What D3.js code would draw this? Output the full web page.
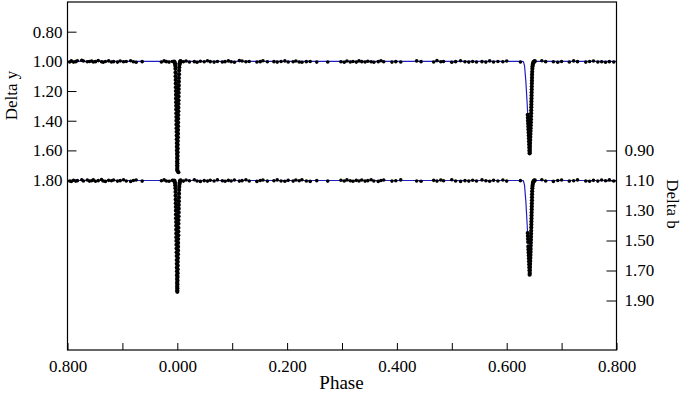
<!DOCTYPE html>
<meta charset="utf-8">
<style>
body { margin: 0; background: #fff; }
text { font-family: "Liberation Serif", "Times New Roman", serif; fill: #000; }
</style>
<svg id="mainsvg" width="683" height="394"></svg>
<script src="https://cdn.jsdelivr.net/npm/d3@7"></script>
<script>

// phase runs -0.2 .. 0.8, labels are shown wrapped into 0..1
const phaseTicks = [-0.2, -0.1, 0, 0.1, 0.2, 0.3, 0.4, 0.5, 0.6, 0.7, 0.8]
const phaseLabels = ["0.800", "", "0.000", "", "0.200", "", "0.400", "", "0.600", "", "0.800"]
const yTicks = [0.80, 1.00, 1.20, 1.40, 1.60, 1.80]
const bTicks = [0.90, 1.10, 1.30, 1.50, 1.70, 1.90]

// out-of-eclipse observations: [phase, delta y, delta b]
const baseObs = [
  [-0.196,1.004,1.103],[-0.193,0.997,1.106],[-0.189,1.005,1.098],[-0.185,1.002,1.104],[-0.182,0.996,1.101],
  [-0.174,0.993,1.095],[-0.171,0.998,1.103],[-0.164,1.003,1.097],[-0.160,1.001,1.104],[-0.156,0.998,1.102],
  [-0.153,1.004,1.096],[-0.149,1.002,1.105],[-0.144,0.995,1.101],[-0.138,1.003,1.094],[-0.135,1.006,1.103],
  [-0.131,1.001,1.106],[-0.125,0.997,1.099],[-0.120,1.004,1.102],[-0.116,1.002,1.097],[-0.109,1.005,1.104],
  [-0.104,0.998,1.101],[-0.098,1.003,1.095],[-0.093,1.001,1.103],[-0.085,0.996,1.106],[-0.080,1.003,1.100],
  [-0.075,1.006,1.097],[-0.064,1.002,1.104],[-0.029,1.004,1.102],[-0.024,0.997,1.096],[-0.020,1.002,1.103],
  [-0.015,1.005,1.105],[-0.009,1.001,1.099],[0.011,1.003,1.104],[0.016,0.998,1.097],[0.022,1.004,1.102],
  [0.031,1.002,1.095],[0.036,1.006,1.103],[0.042,0.999,1.106],
  [0.049,1.003,1.101],[0.055,0.996,1.104],[0.060,1.002,1.098],[0.067,1.005,1.103],[0.073,1.001,1.096],
  [0.082,1.004,1.102],[0.087,1.002,1.105],[0.093,0.997,1.099],[0.098,1.003,1.103],[0.104,1.006,1.097],
  [0.113,0.995,1.104],[0.118,0.998,1.101],[0.125,1.003,1.095],[0.131,1.001,1.103],[0.145,1.004,1.106],
  [0.151,1.002,1.100],[0.156,0.996,1.097],[0.164,1.003,1.104],[0.176,1.002,1.102],[0.182,1.005,1.096],
  [0.189,1.001,1.103],[0.196,0.997,1.105],[0.202,1.004,1.099],[0.211,1.003,1.104],[0.216,0.998,1.097],
  [0.222,1.004,1.102],[0.227,1.006,1.095],[0.235,1.002,1.103],[0.242,1.001,1.106],[0.254,1.005,1.101],
  [0.274,1.004,1.104],
  [0.298,1.003,1.098],[0.304,1.006,1.103],[0.309,0.998,1.096],[0.315,1.004,1.102],[0.320,1.001,1.105],
  [0.326,1.005,1.099],[0.331,0.997,1.103],[0.336,1.002,1.097],[0.342,1.004,1.104],[0.347,0.999,1.101],
  [0.353,1.003,1.095],[0.358,1.006,1.103],[0.366,1.002,1.106],[0.371,0.996,1.100],[0.376,1.003,1.097],
  [0.391,1.005,1.104],[0.398,1.002,1.102],[0.407,1.004,1.096],[0.436,0.997,1.103],[0.444,1.002,1.105],
  [0.467,1.004,1.099],[0.473,0.995,1.104],[0.480,1.003,1.097],[0.485,1.001,1.102],[0.500,1.006,1.095],
  [0.507,1.002,1.103],[0.516,0.996,1.106],[0.524,1.003,1.101],[0.531,1.005,1.104],[0.538,1.001,1.098],
  [0.545,1.004,1.103],
  [0.555,1.002,1.096],[0.562,1.005,1.102],[0.569,0.997,1.105],[0.576,1.004,1.099],[0.584,1.001,1.103],
  [0.593,1.003,1.097],[0.600,0.998,1.104],[0.625,1.004,1.101],[0.664,0.996,1.095],[0.671,1.002,1.103],
  [0.685,1.003,1.106],[0.693,1.006,1.100],[0.700,1.001,1.097],[0.714,1.004,1.104],[0.722,0.997,1.102],
  [0.729,1.002,1.096],[0.744,1.005,1.103],[0.751,1.001,1.105],[0.758,0.998,1.099],[0.766,1.004,1.104],
  [0.773,1.003,1.097],[0.780,1.006,1.102],[0.787,1.002,1.095],[0.795,1.004,1.103]
]

// primary eclipse observations: [phase, delta y, delta b]
const primObs = [
  [-0.0058,1.001,1.101],[-0.0050,1.005,1.104],[-0.0042,1.015,1.116],[-0.0037,1.030,1.132],[-0.0034,1.050,1.151],
  [-0.0032,1.075,1.176],
  [-0.0031,1.100,1.201],[-0.0029,1.125,1.226],[-0.0028,1.150,1.251],[-0.0026,1.175,1.276],[-0.0025,1.200,1.301],
  [-0.0024,1.225,1.327],[-0.0023,1.250,1.352],[-0.0021,1.275,1.377],[-0.0020,1.300,1.402],[-0.0019,1.325,1.428],
  [-0.0018,1.350,1.453],[-0.0017,1.375,1.478],[-0.0016,1.400,1.503],[-0.0015,1.425,1.529],[-0.0013,1.450,1.554],
  [-0.0012,1.475,1.579],[-0.0011,1.500,1.604],[-0.0010,1.525,1.630],[-0.0009,1.550,1.655],[-0.0008,1.575,1.680],
  [-0.0006,1.600,1.705],[-0.0005,1.625,1.731],[-0.0004,1.650,1.756],[-0.0003,1.675,1.781],[-0.0002,1.700,1.806],
  [-0.0001,1.725,1.832],
  [0.0000,1.735,1.842],[0.0001,1.712,1.818],[0.0002,1.687,1.793],[0.0004,1.662,1.768],[0.0005,1.637,1.743],
  [0.0006,1.612,1.718],[0.0007,1.587,1.692],[0.0008,1.562,1.667],[0.0009,1.537,1.642],[0.0011,1.512,1.617],
  [0.0012,1.487,1.591],[0.0013,1.462,1.566],[0.0014,1.437,1.541],[0.0015,1.412,1.516],[0.0016,1.387,1.490],
  [0.0018,1.362,1.465],[0.0019,1.337,1.440],[0.0020,1.312,1.415],[0.0021,1.287,1.389],[0.0022,1.262,1.364],
  [0.0023,1.237,1.339],[0.0025,1.212,1.313],[0.0026,1.187,1.288],[0.0027,1.162,1.263],[0.0028,1.137,1.238],
  [0.0030,1.112,1.213],[0.0031,1.087,1.188],[0.0033,1.062,1.163],[0.0036,1.040,1.141],[0.0040,1.022,1.123],
  [0.0044,1.012,1.113],[0.0052,1.002,1.102],[0.0060,0.999,1.099]
]
// one high b point just after primary minimum
const primOutliersB = [[0.0020,1.045]]

// secondary eclipse observations: [phase, delta y, delta b]
const secObs = [
  [0.6383,1.36,1.45],[0.6386,1.38,1.47],[0.6388,1.40,1.49],[0.6391,1.42,1.51],[0.6394,1.44,1.54],
  [0.6396,1.46,1.56],[0.6399,1.48,1.58],[0.6402,1.50,1.60],[0.6404,1.52,1.62],[0.6407,1.54,1.64],
  [0.6410,1.56,1.66],[0.6412,1.58,1.68],[0.6415,1.60,1.70],[0.6418,1.62,1.728],
  [0.6420,1.61,1.716],[0.6422,1.59,1.696],[0.6424,1.57,1.676],[0.6426,1.55,1.656],[0.6429,1.53,1.636],
  [0.6431,1.51,1.616],[0.6433,1.49,1.596],[0.6435,1.47,1.576],[0.6436,1.45,1.556],[0.6438,1.43,1.535],
  [0.6440,1.41,1.515],[0.6442,1.39,1.495],[0.6443,1.37,1.475],[0.6445,1.35,1.455],[0.6446,1.33,1.435],
  [0.6448,1.31,1.414],[0.6449,1.29,1.394],[0.6450,1.27,1.374],[0.6452,1.25,1.354],[0.6453,1.23,1.334],
  [0.6454,1.21,1.313],[0.6456,1.19,1.293],[0.6457,1.17,1.273],[0.6458,1.15,1.253],[0.6460,1.13,1.232],
  [0.6461,1.11,1.212],[0.6462,1.09,1.192],[0.6464,1.07,1.172],[0.6467,1.05,1.152],[0.6470,1.035,1.136],
  [0.6475,1.022,1.123],[0.6481,1.012,1.113],[0.6490,1.005,1.105],[0.6500,1.001,1.101],[0.6512,0.999,1.099]
]

// model light curves: [phase, delta y, delta b]
const modelCurve = [
  [-0.2,1.000,1.100],
  [-0.0060,1.000,1.100],[-0.0045,1.006,1.106],[-0.0035,1.035,1.136],[-0.0025,1.200,1.301],[-0.0010,1.490,1.595],
  [0,1.738,1.845],
  [0.0010,1.500,1.605],[0.0025,1.200,1.301],[0.0035,1.035,1.136],[0.0045,1.006,1.106],[0.0060,1.000,1.100],
  [0.6280,1.000,1.100],[0.6305,1.002,1.102],[0.6325,1.030,1.133],[0.6350,1.140,1.245],[0.6375,1.300,1.410],
  [0.6395,1.450,1.560],[0.6418,1.624,1.731],
  [0.6432,1.500,1.600],[0.6445,1.350,1.455],[0.6455,1.200,1.300],[0.6463,1.080,1.180],[0.6470,1.030,1.130],
  [0.6485,1.008,1.108],[0.6510,1.001,1.101],[0.6540,1.000,1.100],
  [0.8,1.000,1.100]
]

const plotLeft = 67.5, plotRight = 616.5, plotTop = 2, plotBottom = 350
const colorModel = "#1f1fc4"
const dotR = 1.8, eclR = 2.1

const x = d3.scaleLinear().domain([-0.2, 0.8]).range([plotLeft, plotRight])
const yL = d3.scaleLinear().domain([0.6, 2.945]).range([plotTop, plotBottom])
const yR = d3.scaleLinear().domain([-0.09, 2.23]).range([plotTop, plotBottom])

const svg = d3.select("#mainsvg")

svg.append("clipPath").attr("id", "plotclip")
  .append("rect")
    .attr("x", plotLeft).attr("y", plotTop)
    .attr("width", plotRight - plotLeft).attr("height", plotBottom - plotTop)

const plot = svg.append("g").attr("clip-path", "url(#plotclip)")

const lineY = d3.line().x(d => x(d[0])).y(d => yL(d[1]))
const lineB = d3.line().x(d => x(d[0])).y(d => yR(d[2]))

plot.append("path").datum(modelCurve)
  .attr("d", lineY).attr("fill", "none").attr("stroke", colorModel).attr("stroke-width", 1.2)
plot.append("path").datum(modelCurve)
  .attr("d", lineB).attr("fill", "none").attr("stroke", colorModel).attr("stroke-width", 1.2)

const eclObs = primObs.concat(secObs)

function drawDots(data, y, r) {
  plot.append("g").selectAll("circle")
    .data(data)
    .enter().append("circle")
      .attr("cx", d => x(d[0]))
      .attr("cy", d => y(d[1]))
      .attr("r", r)
      .attr("fill", "#000")
}

drawDots(baseObs.map(d => [d[0], d[1]]), yL, dotR)
drawDots(baseObs.map(d => [d[0], d[2]]), yR, dotR)
drawDots(eclObs.map(d => [d[0], d[1]]), yL, eclR)
drawDots(eclObs.map(d => [d[0], d[2]]).concat(primOutliersB), yR, eclR)

// axes, ticks pointing inwards
svg.append("g")
  .attr("transform", `translate(0,${plotBottom})`)
  .call(d3.axisBottom(x).tickValues(phaseTicks).tickSize(-7).tickSizeOuter(0).tickPadding(10)
    .tickFormat((d, i) => phaseLabels[i]))

svg.append("g")
  .attr("transform", `translate(${plotLeft},0)`)
  .call(d3.axisLeft(yL).tickValues(yTicks).tickSize(-9).tickSizeOuter(0).tickPadding(5)
    .tickFormat(d3.format(".2f")))

svg.append("g")
  .attr("transform", `translate(${plotRight},0)`)
  .call(d3.axisRight(yR).tickValues(bTicks).tickSize(-10).tickSizeOuter(0).tickPadding(8)
    .tickFormat(d3.format(".2f")))

svg.selectAll(".domain").remove()
svg.selectAll(".tick line").attr("stroke", "#000").attr("stroke-width", 1)
svg.selectAll(".tick text")
  .attr("font-family", "Liberation Serif, serif")
  .attr("font-size", 17)
  .attr("fill", "#000")

svg.append("rect")
  .attr("x", plotLeft).attr("y", plotTop)
  .attr("width", plotRight - plotLeft).attr("height", plotBottom - plotTop)
  .attr("fill", "none").attr("stroke", "#000").attr("stroke-width", 1.2)

svg.append("text")
  .attr("transform", "translate(17,95.5) rotate(-90)")
  .attr("text-anchor", "middle")
  .attr("font-size", 17)
  .text("Delta y")

svg.append("text")
  .attr("transform", "translate(667,204) rotate(90)")
  .attr("text-anchor", "middle")
  .attr("font-size", 17)
  .text("Delta b")

svg.append("text")
  .attr("x", 341.5).attr("y", 389)
  .attr("text-anchor", "middle")
  .attr("font-size", 19)
  .text("Phase")

</script>
